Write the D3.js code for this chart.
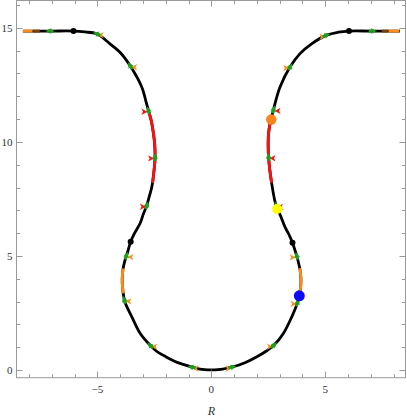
<!DOCTYPE html>
<html>
<head>
<meta charset="utf-8">
<script src="https://cdn.jsdelivr.net/npm/d3@7"></script>
<style>
body { margin: 0; background: #fff; }
text { font-family: "Liberation Serif", "DejaVu Serif", serif; fill: #333; }
</style>
</head>
<body>
<div id="chart"></div>
<script>
// profile, right half, read from the bottom up
var rightR = [0, 0.5, 0.96, 1.5, 2.0, 2.4, 2.75, 3.16, 3.53, 3.77, 3.86, 3.92, 3.93, 3.89, 3.80, 3.70, 3.56, 3.40, 3.23, 3.02, 2.88, 2.78, 2.65, 2.55, 2.50, 2.50, 2.54, 2.62, 2.72, 2.80, 3.01, 3.45, 3.89, 4.40, 5.06, 5.57, 6.04, 7.0, 8.28];
var rightZ = [0, 0.04, 0.14, 0.33, 0.58, 0.82, 1.09, 1.60, 2.33, 2.92, 3.25, 3.65, 4.0, 4.4, 4.8, 5.15, 5.58, 5.95, 6.27, 6.80, 7.08, 7.44, 8.17, 8.90, 9.55, 10.2, 10.6, 11.0, 11.38, 11.7, 12.4, 13.28, 13.87, 14.3, 14.68, 14.81, 14.86, 14.86, 14.86];
// profile, left half
var leftR = [0, -0.5, -0.9, -1.5, -2.0, -2.4, -2.69, -3.12, -3.49, -3.78, -3.85, -3.90, -3.91, -3.88, -3.79, -3.68, -3.54, -3.38, -3.13, -2.98, -2.83, -2.74, -2.61, -2.52, -2.47, -2.49, -2.54, -2.63, -2.76, -2.85, -3.05, -3.57, -3.98, -4.45, -5.03, -5.55, -6.05, -7.0, -8.27];
var leftZ = [0, 0.04, 0.14, 0.33, 0.58, 0.82, 1.09, 1.60, 2.33, 2.95, 3.25, 3.65, 4.0, 4.4, 4.8, 5.15, 5.62, 5.98, 6.42, 6.85, 7.22, 7.55, 8.03, 8.70, 9.34, 9.95, 10.36, 10.9, 11.38, 11.7, 12.4, 13.35, 13.9, 14.3, 14.74, 14.82, 14.86, 14.86, 14.86];

// markers along the curve (green arrow) and the colour of the side arrowhead
var markR = [7.08, 5.03, 3.47, 2.74, 2.50, 2.84, 3.74, 3.78, 2.73, 0.93,
             -7.1, -5.03, -3.57, -2.76, -2.47, -2.83, -3.79, -3.83, -2.69, -0.86];
var markZ = [14.86, 14.72, 13.30, 11.41, 9.34, 7.22, 4.99, 2.95, 1.09, 0.14,
             14.86, 14.74, 13.35, 11.38, 9.34, 7.22, 5.04, 3.06, 1.09, 0.14];
var markCol = ["none", "orange", "orange", "red", "red", "red", "orange", "orange", "orange", "orange",
               "none", "orange", "orange", "red", "red", "red", "orange", "orange", "orange", "orange"];

// coloured stretches of the curve
var segSide = ["R", "R", "R", "R", "L", "L", "L", "L"];
var segKey = ["z", "z", "r", "r", "z", "z", "r", "r"];
var segFrom = [8.2, 3.37, 7.47, 7.75, 8.2, 3.36, 7.51, 7.82];
var segTo = [10.95, 4.47, 7.75, 8.28, 11.3, 4.45, 7.82, 8.27];
var segCol = ["#ff1010", "#ff8c1a", "#7b4000", "#ff8c1a", "#ff1010", "#ff8c1a", "#7b4000", "#ff8c1a"];

// points
var dotR = [6.04, -6.05, 3.56, -3.54, 2.63, 2.89, 3.86];
var dotZ = [14.86, 14.86, 5.58, 5.62, 10.98, 7.06, 3.25];
var dotCol = ["#000", "#000", "#000", "#000", "#f7851b", "#ffff00", "#0a0aff"];
var dotRad = [3, 3, 3, 3, 5.2, 5, 5.5];

var xTicks = [-8, -7, -6, -5, -4, -3, -2, -1, 0, 1, 2, 3, 4, 5, 6, 7, 8];
var yTicks = [0, 1, 2, 3, 4, 5, 6, 7, 8, 9, 10, 11, 12, 13, 14, 15, 16];
var xLabels = [-5, 0, 5];
var yLabels = [0, 5, 10, 15];

var W = 407, H = 418;
var svg = d3.select("#chart").append("svg")
    .attr("width", W)
    .attr("height", H);

var x = d3.scaleLinear().domain([-8.55, 8.52]).range([16.5, 405.5]);
var y = d3.scaleLinear().domain([-0.34, 16.2]).range([377.7, 0.5]);

//Draw frame and ticks
var frame = svg.append("g").attr("stroke", "#999").attr("stroke-width", 1).attr("fill", "none");
frame.append("rect")
    .attr("x", x.range()[0]).attr("y", y.range()[1])
    .attr("width", x.range()[1] - x.range()[0])
    .attr("height", y.range()[0] - y.range()[1]);

function tickLen(v, labels) { return labels.indexOf(v) >= 0 ? 6 : 3.5; }

xTicks.forEach(function(v) {
    var px = Math.round(x(v)) + 0.5, l = tickLen(v, xLabels);
    frame.append("line").attr("x1", px).attr("x2", px).attr("y1", y.range()[0]).attr("y2", y.range()[0] - l);
    frame.append("line").attr("x1", px).attr("x2", px).attr("y1", y.range()[1]).attr("y2", y.range()[1] + l);
});
yTicks.forEach(function(v) {
    var py = Math.round(y(v)) + 0.5, l = tickLen(v, yLabels);
    frame.append("line").attr("y1", py).attr("y2", py).attr("x1", x.range()[0]).attr("x2", x.range()[0] + l);
    frame.append("line").attr("y1", py).attr("y2", py).attr("x1", x.range()[1]).attr("x2", x.range()[1] - l);
});

svg.selectAll(".xlab").data(xLabels).enter().append("text")
    .attr("class", "xlab")
    .attr("x", function(d) { return x(d); })
    .attr("y", 393)
    .attr("text-anchor", "middle")
    .attr("font-size", 11)
    .text(function(d) { return d < 0 ? "\u2212" + Math.abs(d) : d; });

svg.selectAll(".ylab").data(yLabels).enter().append("text")
    .attr("class", "ylab")
    .attr("x", 12.5)
    .attr("y", function(d) { return y(d) + 3.8; })
    .attr("text-anchor", "end")
    .attr("font-size", 11)
    .text(function(d) { return d; });

svg.append("text")
    .attr("x", x(0))
    .attr("y", 415)
    .attr("text-anchor", "middle")
    .attr("font-size", 12)
    .attr("font-style", "italic")
    .text("R");

//Draw the curve
var line = d3.line()
    .x(function(d) { return x(d[0]); })
    .y(function(d) { return y(d[1]); })
    .curve(d3.curveCatmullRom.alpha(0.5));

var sides = { R: d3.zip(rightR, rightZ), L: d3.zip(leftR, leftZ) };
var samples = {};

Object.keys(sides).forEach(function(k) {
    var path = svg.append("path")
        .datum(sides[k])
        .attr("d", line)
        .attr("fill", "none")
        .attr("stroke", "#000")
        .attr("stroke-width", 2.8);
    var node = path.node(), L = node.getTotalLength(), pts = [];
    for (var i = 0; i <= 800; i++) {
        var p = node.getPointAtLength(L * i / 800);
        pts.push([p.x, p.y]);
    }
    samples[k] = pts;
});

// coloured stretches
var flat = d3.line();
segSide.forEach(function(s, i) {
    var pts = samples[s].filter(function(p) {
        var v = segKey[i] == "z" ? y.invert(p[1]) : Math.abs(x.invert(p[0]));
        return v >= segFrom[i] && v <= segTo[i];
    });
    svg.append("path")
        .attr("d", flat(pts))
        .attr("fill", "none")
        .attr("stroke", segCol[i])
        .attr("stroke-width", 2.8);
});

// arrows
var head = "M0,0 L-6,-3.2 L-4.4,0 L-6,3.2 Z";
var markG = svg.append("g");
markR.forEach(function(r, i) {
    var pts = samples[r < 0 ? "L" : "R"];
    var px = x(r), py = y(markZ[i]);
    var j = d3.minIndex(pts, function(p) { return (p[0] - px) * (p[0] - px) + (p[1] - py) * (p[1] - py); });
    var a = pts[Math.max(0, j - 3)], b = pts[Math.min(pts.length - 1, j + 3)];
    var ang = Math.atan2(b[1] - a[1], b[0] - a[0]) * 180 / Math.PI;
    var c = pts[j];

    if (markCol[i] != "none") {
        var dir = (markCol[i] == "orange" ? 1 : -1) * (r < 0 ? -1 : 1);
        markG.append("path")
            .attr("d", head)
            .attr("fill", markCol[i] == "orange" ? "#ff8c1a" : "#ff1010")
            .attr("transform", "translate(" + (c[0] - dir * 1) + "," + (c[1] + 1.5) + ") scale(" + dir + ",1)");
    }

    var g = markG.append("g")
        .attr("transform", "translate(" + c[0] + "," + c[1] + ") rotate(" + ang + ")");
    g.append("line")
        .attr("x1", -4).attr("x2", 1)
        .attr("stroke", "#1f9e1f")
        .attr("stroke-width", 3);
    g.append("path")
        .attr("d", "M4,0 L-2,-3 L-0.6,0 L-2,3 Z")
        .attr("fill", "#1f9e1f");
});

// points
svg.selectAll(".dot").data(d3.range(dotR.length)).enter().append("circle")
    .attr("class", "dot")
    .attr("cx", function(i) { return x(dotR[i]); })
    .attr("cy", function(i) { return y(dotZ[i]); })
    .attr("r", function(i) { return dotRad[i]; })
    .attr("fill", function(i) { return dotCol[i]; });
</script>
</body>
</html>
